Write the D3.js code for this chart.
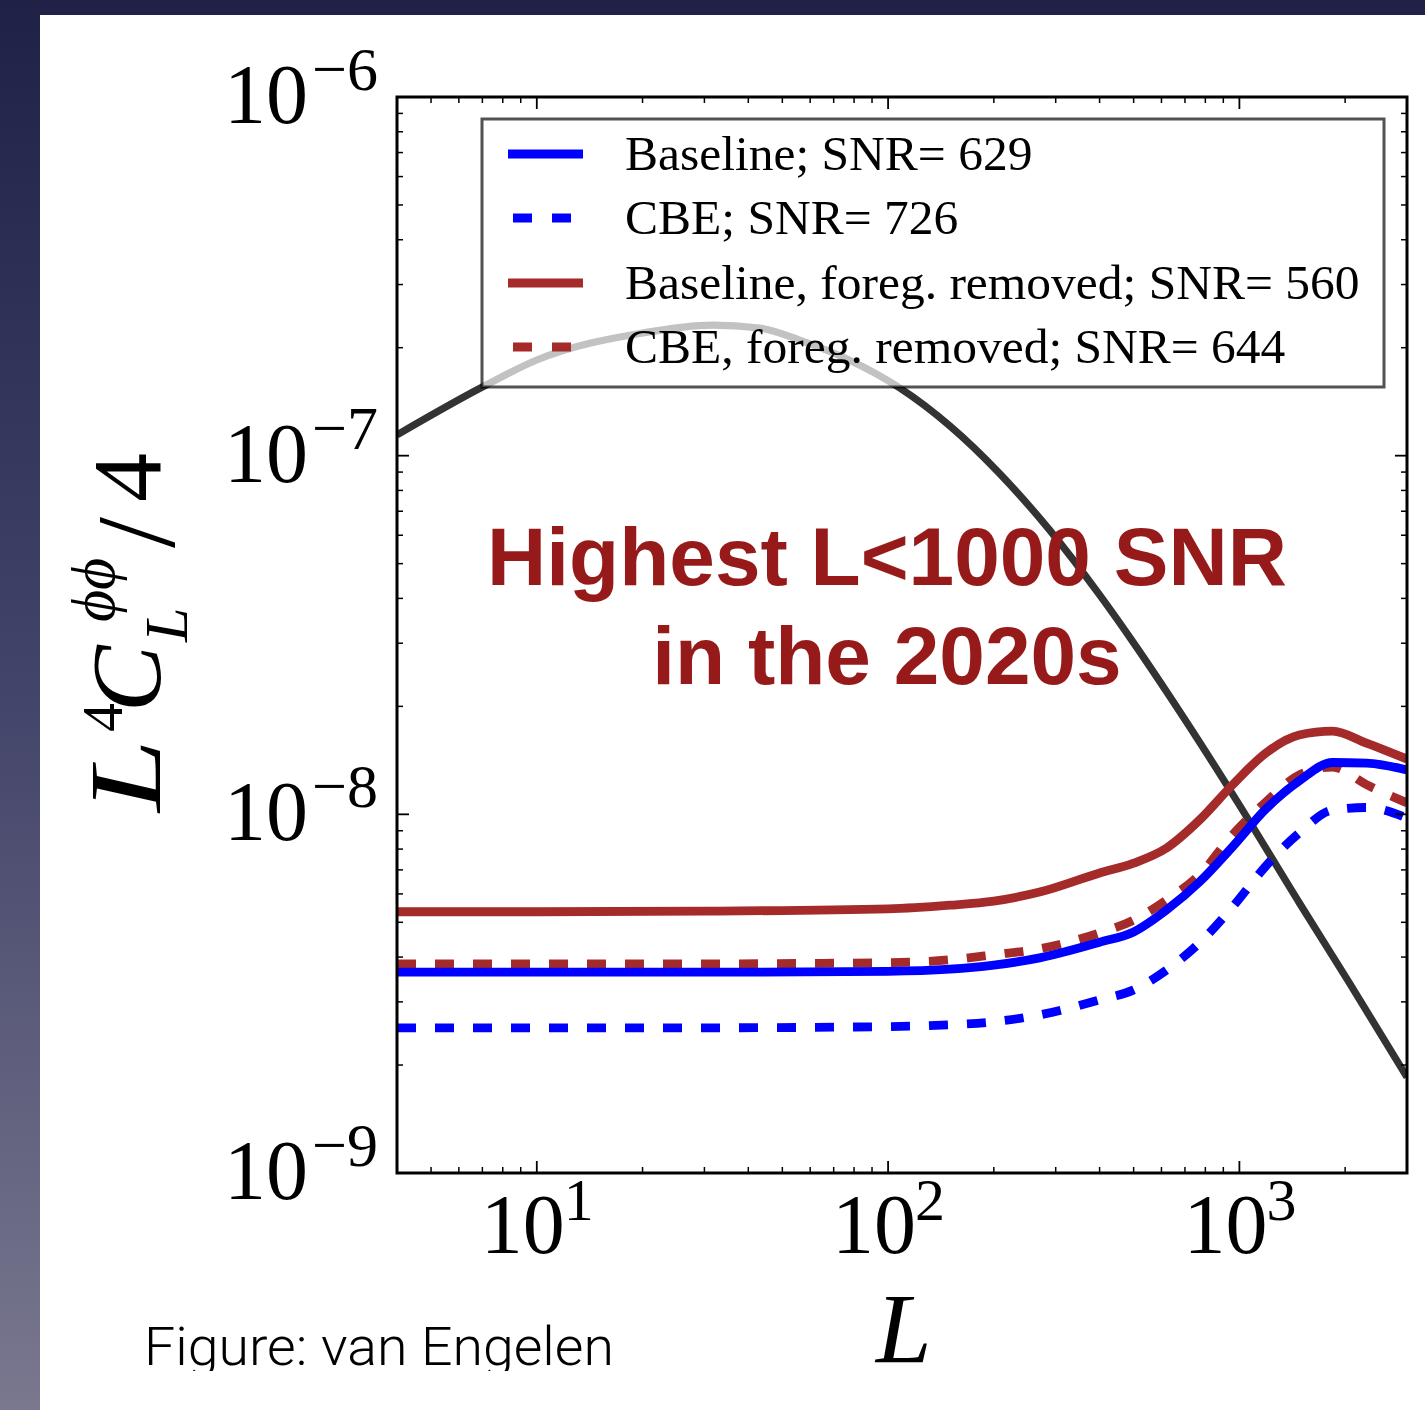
<!DOCTYPE html>
<html><head><meta charset="utf-8">
<script src="https://cdn.jsdelivr.net/npm/d3@7"></script>
<style>html,body{margin:0;padding:0;background:#fff;} svg{display:block}</style>
</head><body>
<script>
// ---------------- data ----------------
const Ls = [4, 10, 30, 100, 150, 200, 270, 400, 500, 620, 770, 955, 1190, 1480, 1840, 2300, 3000];
const baseline      = [3.63e-9, 3.63e-9, 3.63e-9, 3.65e-9, 3.70e-9, 3.80e-9, 3.98e-9, 4.40e-9, 4.70e-9, 5.41e-9, 6.48e-9, 8.11e-9, 1.035e-8, 1.239e-8, 1.395e-8, 1.39e-8, 1.33e-8];
const cbe           = [2.54e-9, 2.54e-9, 2.54e-9, 2.56e-9, 2.59e-9, 2.64e-9, 2.76e-9, 3.04e-9, 3.24e-9, 3.68e-9, 4.38e-9, 5.51e-9, 7.18e-9, 8.87e-9, 1.028e-8, 1.045e-8, 9.77e-9];
const baselineFg    = [5.35e-9, 5.35e-9, 5.37e-9, 5.45e-9, 5.58e-9, 5.73e-9, 6.07e-9, 6.86e-9, 7.31e-9, 8.05e-9, 9.64e-9, 1.207e-8, 1.483e-8, 1.664e-8, 1.706e-8, 1.58e-8, 1.426e-8];
const cbeFg         = [3.83e-9, 3.83e-9, 3.83e-9, 3.86e-9, 3.93e-9, 4.06e-9, 4.22e-9, 4.67e-9, 5.07e-9, 5.77e-9, 6.78e-9, 8.76e-9, 1.083e-8, 1.288e-8, 1.355e-8, 1.21e-8, 1.076e-8];
const phiL   = [4, 7, 10, 20, 31.6, 43, 56, 77.5, 108, 150, 207, 288, 400, 509, 644, 980, 1482, 2056, 3000];
const phiVal = [1.143e-7, 1.554e-7, 1.848e-7, 2.198e-7, 2.313e-7, 2.27e-7, 2.10e-7, 1.848e-7, 1.544e-7, 1.21e-7, 8.95e-8, 6.21e-8, 4.09e-8, 2.93e-8, 2.08e-8, 1.096e-8, 5.66e-9, 3.39e-9, 1.85e-9];

const seriesNames = ["Baseline; SNR= 629", "CBE; SNR= 726", "Baseline, foreg. removed; SNR= 560", "CBE, foreg. removed; SNR= 644"];
const xTickVals = [10, 100, 1000];
const xTickExp  = ["1", "2", "3"];
const yTickVals = [1e-6, 1e-7, 1e-8, 1e-9];
const yTickExp  = ["\u22126", "\u22127", "\u22128", "\u22129"];
const annotation = ["Highest L<1000 SNR", "in the 2020s"];
const credit = "Figure: van Engelen";

// ---------------- layout ----------------
const W = 1425, H = 1410;
const m = {l: 397, r: 1407, t: 97, b: 1173};
const x = d3.scaleLog().domain([4, 3000]).range([m.l, m.r]);
const y = d3.scaleLog().domain([1e-9, 1e-6]).range([m.b, m.t]);

const svg = d3.select("body").append("svg").attr("width", W).attr("height", H);
const defs = svg.append("defs");
const grad = defs.append("linearGradient").attr("id", "bg").attr("x1", 0).attr("y1", 0).attr("x2", 0).attr("y2", 1);
grad.append("stop").attr("offset", 0).attr("stop-color", "#1f2146");
grad.append("stop").attr("offset", 0.5).attr("stop-color", "#43456a");
grad.append("stop").attr("offset", 1).attr("stop-color", "#7a788f");
svg.append("rect").attr("width", W).attr("height", H).attr("fill", "url(#bg)");
svg.append("rect").attr("x", 40).attr("y", 15).attr("width", W - 40).attr("height", H - 15).attr("fill", "#fff");

defs.append("clipPath").attr("id", "plotclip").append("rect")
  .attr("x", m.l).attr("y", m.t).attr("width", m.r - m.l).attr("height", m.b - m.t);
defs.append("clipPath").attr("id", "creditclip").append("rect")
  .attr("x", 0).attr("y", 0).attr("width", W).attr("height", 1371);

const serif = "'Liberation Serif','DejaVu Serif',serif";

// ---------------- curves ----------------
const plot = svg.append("g").attr("clip-path", "url(#plotclip)");
const line = d3.line().x(d => x(d[0])).y(d => y(d[1])).curve(d3.curveMonotoneX);
const zipL = vals => Ls.map((L, i) => [L, vals[i]]);

plot.append("path").datum(phiL.map((L, i) => [L, phiVal[i]]))
  .attr("d", line).attr("fill", "none").attr("stroke", "#333333").attr("stroke-width", 7.2);

const series = [
  {vals: baselineFg, color: "#a52a2a", dash: null},
  {vals: cbeFg, color: "#a52a2a", dash: "19,19"},
  {vals: baseline, color: "#0000ff", dash: null},
  {vals: cbe, color: "#0000ff", dash: "19,19"}
];
series.forEach(s => {
  plot.append("path").datum(zipL(s.vals)).attr("d", line)
    .attr("fill", "none").attr("stroke", s.color).attr("stroke-width", 8.8)
    .attr("stroke-dasharray", s.dash).attr("stroke-linejoin", "round");
});

// ---------------- annotation ----------------
const ann = svg.append("g").attr("font-family", "'Liberation Sans',Arial,sans-serif")
  .attr("font-weight", "bold").attr("font-size", 82).attr("fill", "#971a1a").attr("text-anchor", "middle");
ann.append("text").attr("x", 887).attr("y", 585).text(annotation[0]);
ann.append("text").attr("x", 887).attr("y", 684).text(annotation[1]);

// ---------------- frame & ticks ----------------
const axes = svg.append("g").attr("stroke", "#000");
const minorX = [];
for (let e = 0; e <= 3; e++) for (let k = 2; k <= 9; k++) { const v = k * Math.pow(10, e); if (v >= 4 && v <= 3000) minorX.push(v); }
const minorY = [];
for (let e = -9; e < -6; e++) for (let k = 2; k <= 9; k++) minorY.push(k * Math.pow(10, e));

const majLen = 12, minLen = 6;
minorX.forEach(v => {
  axes.append("line").attr("x1", x(v)).attr("x2", x(v)).attr("y1", m.b).attr("y2", m.b - minLen).attr("stroke-width", 1.5);
  axes.append("line").attr("x1", x(v)).attr("x2", x(v)).attr("y1", m.t).attr("y2", m.t + minLen).attr("stroke-width", 1.5);
});
xTickVals.forEach(v => {
  axes.append("line").attr("x1", x(v)).attr("x2", x(v)).attr("y1", m.b).attr("y2", m.b - majLen).attr("stroke-width", 1.8);
  axes.append("line").attr("x1", x(v)).attr("x2", x(v)).attr("y1", m.t).attr("y2", m.t + majLen).attr("stroke-width", 1.8);
});
minorY.forEach(v => {
  axes.append("line").attr("y1", y(v)).attr("y2", y(v)).attr("x1", m.l).attr("x2", m.l + minLen).attr("stroke-width", 1.5);
  axes.append("line").attr("y1", y(v)).attr("y2", y(v)).attr("x1", m.r).attr("x2", m.r - minLen).attr("stroke-width", 1.5);
});
yTickVals.forEach(v => {
  axes.append("line").attr("y1", y(v)).attr("y2", y(v)).attr("x1", m.l).attr("x2", m.l + majLen).attr("stroke-width", 1.8);
  axes.append("line").attr("y1", y(v)).attr("y2", y(v)).attr("x1", m.r).attr("x2", m.r - majLen).attr("stroke-width", 1.8);
});
axes.append("rect").attr("x", m.l).attr("y", m.t).attr("width", m.r - m.l).attr("height", m.b - m.t)
  .attr("fill", "none").attr("stroke-width", 3);

// tick labels
const tl = svg.append("g").attr("font-family", serif).attr("fill", "#000");
yTickVals.forEach((v, i) => {
  const yy = y(v);
  tl.append("text").attr("x", 308).attr("y", yy + 26).attr("font-size", 84).attr("text-anchor", "end").text("10");
  tl.append("text").attr("x", 312).attr("y", yy - 7).attr("font-size", 62).text(yTickExp[i]);
});
xTickVals.forEach((v, i) => {
  const xx = x(v);
  tl.append("text").attr("x", xx + 28).attr("y", 1253).attr("font-size", 84).attr("text-anchor", "end").text("10");
  tl.append("text").attr("x", xx + 27).attr("y", 1220).attr("font-size", 60).text(xTickExp[i]);
});

// axis labels
svg.append("text").attr("x", 876).attr("y", 1362).attr("font-family", serif).attr("font-style", "italic")
  .attr("font-size", 100).text("L");

const yl = svg.append("g").attr("transform", "translate(160,812) rotate(-90)").attr("font-family", serif).attr("fill", "#000");
yl.append("text").attr("transform", "scale(1.28,1)").attr("x", 0).attr("y", 0).attr("font-size", 102).attr("font-style", "italic").text("L");
yl.append("text").attr("x", 80).attr("y", -38).attr("font-size", 58).text("4");
yl.append("text").attr("x", 100).attr("y", 0).attr("font-size", 100).attr("font-style", "italic").text("C");
yl.append("text").attr("x", 170).attr("y", 27).attr("font-size", 62).attr("font-style", "italic").text("L");
yl.append("text").attr("x", 190).attr("y", -46).attr("font-size", 62).attr("font-style", "italic").text("\u03d5\u03d5");
yl.append("text").attr("x", 264).attr("y", 14).attr("font-size", 112).text("/");
yl.append("text").attr("x", 310).attr("y", 0).attr("font-size", 98).text("4");

// ---------------- legend ----------------
const lg = svg.append("g");
lg.append("rect").attr("x", 482).attr("y", 119).attr("width", 902).attr("height", 268)
  .attr("fill", "#fff").attr("fill-opacity", 0.7).attr("stroke", "#000").attr("stroke-opacity", 0.68).attr("stroke-width", 3);
const legendStyle = [
  {color: "#0000ff", dash: null},
  {color: "#0000ff", dash: "19,20"},
  {color: "#a52a2a", dash: null},
  {color: "#a52a2a", dash: "19,20"}
];
const rowY = [154, 218, 283, 347];
seriesNames.forEach((name, i) => {
  const st = legendStyle[i];
  lg.append("line").attr("x1", st.dash ? 513 : 508).attr("x2", st.dash ? 572 : 583)
    .attr("y1", rowY[i]).attr("y2", rowY[i]).attr("stroke", st.color).attr("stroke-width", 8.8)
    .attr("stroke-dasharray", st.dash);
  lg.append("text").attr("x", 625).attr("y", rowY[i] + 16).attr("font-family", serif)
    .attr("font-size", 49.5).attr("fill", "#000").text(name);
});

// ---------------- credit ----------------
svg.append("text").attr("x", 144).attr("y", 1365).attr("font-family", "Roboto,'Liberation Sans',sans-serif")
  .attr("font-weight", 300).attr("font-size", 53).attr("fill", "#000").attr("clip-path", "url(#creditclip)")
  .attr("textLength", 470).attr("lengthAdjust", "spacingAndGlyphs").text(credit);
</script>
</body></html>
